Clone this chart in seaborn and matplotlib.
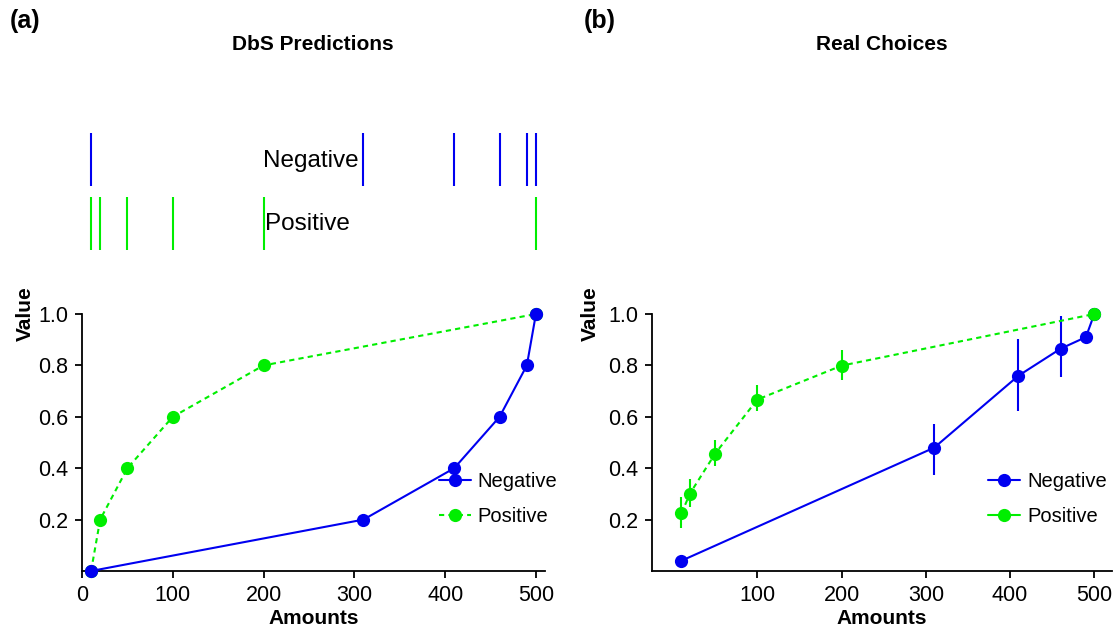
import matplotlib
matplotlib.use("Agg")
import matplotlib.pyplot as plt
import seaborn as sns
import numpy as np
from matplotlib.lines import Line2D

# ---------------- data ----------------
neg_x = [10, 310, 410, 460, 490, 500]
pos_x = [10, 20, 50, 100, 200, 500]

dbs_neg_y = [0.0, 0.2, 0.4, 0.6, 0.8, 1.0]
dbs_pos_y = [0.0, 0.2, 0.4, 0.6, 0.8, 1.0]

real_neg_y = [0.04, 0.48, 0.76, 0.865, 0.91, 1.0]
real_neg_lo = [0.04, 0.375, 0.624, 0.754, 0.91, 1.0]
real_neg_hi = [0.04, 0.573, 0.903, 0.993, 0.91, 1.0]

real_pos_y = [0.224, 0.301, 0.457, 0.667, 0.799, 1.0]
real_pos_lo = [0.167, 0.248, 0.41, 0.621, 0.744, 1.0]
real_pos_hi = [0.289, 0.359, 0.511, 0.724, 0.861, 1.0]

series_names = ["Negative", "Positive"]
panel_titles = ["DbS Predictions", "Real Choices"]
panel_tags = ["(a)", "(b)"]

BLUE = "#0000F0"
GREEN = "#00EE00"

# ---------------- style ----------------
sns.set_theme(style="ticks")
plt.rcParams["font.family"] = ["Liberation Sans", "DejaVu Sans"]
plt.rcParams["axes.linewidth"] = 1.3
plt.rcParams["xtick.major.width"] = 1.3
plt.rcParams["ytick.major.width"] = 1.3
plt.rcParams["xtick.major.size"] = 5
plt.rcParams["ytick.major.size"] = 5
for k in ["xtick.color", "ytick.color", "axes.edgecolor", "text.color",
          "axes.labelcolor", "xtick.labelcolor", "ytick.labelcolor"]:
    plt.rcParams[k] = "black"

W, H = 1115, 630
fig = plt.figure(figsize=(W / 100, H / 100), dpi=100)


def rect(l, r, t, b):
    return [l / W, 1 - b / H, (r - l) / W, (b - t) / H]


ax_a = fig.add_axes(rect(82, 545, 314, 571))
ax_b = fig.add_axes(rect(652, 1112, 314, 571))
ax_r = fig.add_axes(rect(82, 545, 133, 250))

LW = 1.5
MS = 9.5
dash = (0, (2.5, 2))

# ---------------- panel (a) ----------------
sns.lineplot(x=pos_x, y=dbs_pos_y, color=GREEN, marker="o", markersize=MS,
             markeredgewidth=0, linewidth=LW, linestyle=dash, ax=ax_a,
             clip_on=False, zorder=3)
sns.lineplot(x=neg_x, y=dbs_neg_y, color=BLUE, marker="o", markersize=MS,
             markeredgewidth=0, linewidth=LW, ax=ax_a, clip_on=False, zorder=4)
ax_a.set_xlim(0, 510)
ax_a.set_ylim(0, 1.0)
ax_a.set_xticks([0, 100, 200, 300, 400, 500])
ax_a.set_yticks([0.2, 0.4, 0.6, 0.8, 1.0])
ax_a.set_yticklabels(["0.2", "0.4", "0.6", "0.8", "1.0"])

# ---------------- panel (b) ----------------
ax_b.vlines(neg_x, real_neg_lo, real_neg_hi, color=BLUE, linewidth=LW, zorder=3)
sns.lineplot(x=neg_x, y=real_neg_y, color=BLUE, marker="o", markersize=MS,
             markeredgewidth=0, linewidth=LW, ax=ax_b, clip_on=False, zorder=3)
ax_b.vlines(pos_x, real_pos_lo, real_pos_hi, color=GREEN, linewidth=LW, zorder=4)
sns.lineplot(x=pos_x, y=real_pos_y, color=GREEN, marker="o", markersize=MS,
             markeredgewidth=0, linewidth=LW, linestyle=dash, ax=ax_b,
             clip_on=False, zorder=4)
ax_b.set_xlim(-25, 521)
ax_b.set_ylim(0, 1.0)
ax_b.set_xticks([100, 200, 300, 400, 500])
ax_b.set_yticks([0.2, 0.4, 0.6, 0.8, 1.0])
ax_b.set_yticklabels(["0.2", "0.4", "0.6", "0.8", "1.0"])

for ax, hx, vx, dashed_pos in [(ax_a, 0.77, -0.123, True),
                               (ax_b, 0.73, -0.133, False)]:
    sns.despine(ax=ax)
    ax.tick_params(labelsize=15.5, pad=5)
    ax.set_xlabel("Amounts", fontsize=15, fontweight="bold")
    ax.xaxis.set_label_coords(0.5, -0.183)
    ax.xaxis.label.set_verticalalignment("center")
    ax.set_ylabel("Value", fontsize=15, fontweight="bold")
    ax.yaxis.set_label_coords(vx, 1.0)
    ax.yaxis.label.set_verticalalignment("center")
    handles = [
        Line2D([], [], color=BLUE, marker="o", markersize=MS, markeredgewidth=0,
               linewidth=LW),
        Line2D([], [], color=GREEN, marker="o", markersize=MS, markeredgewidth=0,
               linewidth=LW, linestyle=dash if dashed_pos else "-"),
    ]
    ax.legend(handles, series_names, loc="center left",
              bbox_to_anchor=(hx, 0.28), frameon=False, fontsize=14.5,
              handlelength=1.6, handletextpad=0.35, labelspacing=0.78,
              borderpad=0, borderaxespad=0)

# ---------------- rug panel ----------------
ax_r.vlines(neg_x, 0.55, 1.0, color=BLUE, linewidth=LW)
ax_r.vlines(pos_x, 0.0, 0.45, color=GREEN, linewidth=LW)
ax_r.set_xlim(0, 510)
ax_r.set_ylim(0, 1)
ax_r.axis("off")
ax_r.text(neg_x[1] - 5, 0.76, series_names[0], ha="right", va="center",
          fontsize=17.5)
ax_r.text(pos_x[4] + 2, 0.22, series_names[1], ha="left", va="center",
          fontsize=17.5)

# ---------------- titles ----------------
fig.text(313 / W, 1 - 45 / H, panel_titles[0], ha="center", va="center",
         fontsize=15, fontweight="bold")
fig.text(882 / W, 1 - 45 / H, panel_titles[1], ha="center", va="center",
         fontsize=15, fontweight="bold")
fig.text(10 / W, 1 - 21 / H, panel_tags[0], ha="left", va="center",
         fontsize=18, fontweight="bold")
fig.text(584 / W, 1 - 21 / H, panel_tags[1], ha="left", va="center",
         fontsize=18, fontweight="bold")

fig.savefig("out.png", dpi=100)
